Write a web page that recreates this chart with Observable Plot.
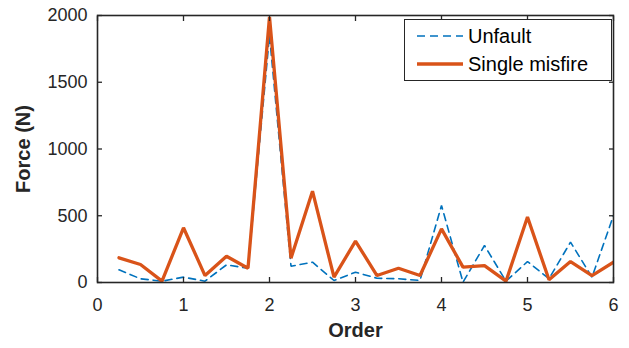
<!DOCTYPE html>
<html>
<head>
<meta charset="utf-8">
<script src="https://cdn.jsdelivr.net/npm/d3@7"></script>
<script src="https://cdn.jsdelivr.net/npm/@observablehq/plot@0.6"></script>
<style>
  html, body { margin: 0; padding: 0; background: #fff; }
  #wrap { position: relative; width: 629px; height: 348px; font-family: "Liberation Sans", Arial, sans-serif; }
  #legend { position: absolute; left: 404px; top: 19px; width: 208px; height: 62px; box-sizing: border-box;
    border: 1px solid #262626; background: #fff; }
  .item { position: absolute; left: 0; display: flex; align-items: center; font-size: 20px; color: #000; }
  .item svg { margin-left: 12px; margin-right: 5px; }
</style>
</head>
<body>
<div id="wrap"></div>
<script>
const orders = [0.25,0.5,0.75,1,1.25,1.5,1.75,2,2.25,2.5,2.75,3,3.25,3.5,3.75,4,4.25,4.5,4.75,5,5.25,5.5,5.75,6];
const unfault = [95,28,10,40,10,132,107,1850,122,152,15,77,32,28,15,577,2,277,10,157,28,302,40,502];
const singleMisfire = [185,135,10,410,52,197,107,1990,182,684,40,310,52,107,52,402,115,127,10,490,20,157,52,152];
const xTicks = [0,1,2,3,4,5,6];
const yTicks = [0,500,1000,1500,2000];
const seriesNames = ["Unfault", "Single misfire"];
const colors = ["#0072BD", "#D95319"];

const data = [];
orders.forEach((o, i) => {
  data.push({order: o, force: unfault[i], series: seriesNames[0]});
  data.push({order: o, force: singleMisfire[i], series: seriesNames[1]});
});

const ink = "#262626";
const chart = Plot.plot({
  width: 629,
  height: 348,
  marginLeft: 97,
  marginRight: 16,
  marginTop: 15,
  marginBottom: 66,
  style: {fontFamily: '"Liberation Sans", Arial, sans-serif', color: ink, background: "#fff"},
  x: {domain: [0, 6]},
  y: {domain: [0, 2000]},
  marks: [
    Plot.lineY(data.filter(d => d.series === seriesNames[0]), {x: "order", y: "force", stroke: colors[0], strokeWidth: 1.6, strokeDasharray: "7,5", strokeLinejoin: "miter", clip: true}),
    Plot.lineY(data.filter(d => d.series === seriesNames[1]), {x: "order", y: "force", stroke: colors[1], strokeWidth: 3.3, strokeLinejoin: "miter", clip: true}),
    Plot.frame({stroke: ink, strokeWidth: 1.6}),
    Plot.axisX({anchor: "bottom", ticks: xTicks, tickFormat: d3.format("d"), tickSize: -5, tickPadding: 21, fontSize: 18, stroke: ink, strokeWidth: 1.3,
      label: "Order", labelAnchor: "center", labelArrow: "none", labelOffset: 54}),
    Plot.axisX({anchor: "top", ticks: xTicks, tickSize: -5, text: null, label: null, stroke: ink, strokeWidth: 1.3}),
    Plot.axisY({anchor: "left", ticks: yTicks, tickFormat: d3.format("d"), tickSize: -5, tickPadding: 15, fontSize: 18, stroke: ink, strokeWidth: 1.3,
      label: "Force (N)", labelAnchor: "center", labelArrow: "none", labelOffset: 82}),
    Plot.axisY({anchor: "right", ticks: yTicks, tickSize: -5, text: null, label: null, stroke: ink, strokeWidth: 1.3})
  ]
});

chart.querySelectorAll('g[aria-label="x-axis label"], g[aria-label="y-axis label"]').forEach(g => {
  g.setAttribute("font-weight", "bold");
  g.setAttribute("font-size", "20");
});

const wrap = document.getElementById("wrap");
wrap.appendChild(chart);

const legend = document.createElement("div");
legend.id = "legend";
seriesNames.forEach((name, i) => {
  const item = document.createElement("div");
  item.className = "item";
  item.style.top = (i === 0 ? 4 : 32) + "px";
  const dash = i === 0 ? 'stroke-dasharray="8,5"' : "";
  const sw = i === 0 ? 1.6 : 3.3;
  item.innerHTML = `<svg width="46" height="24"><line x1="0" x2="46" y1="12" y2="12" stroke="${colors[i]}" stroke-width="${sw}" ${dash}/></svg><span>${name}</span>`;
  legend.appendChild(item);
});
wrap.appendChild(legend);
</script>
</body>
</html>
